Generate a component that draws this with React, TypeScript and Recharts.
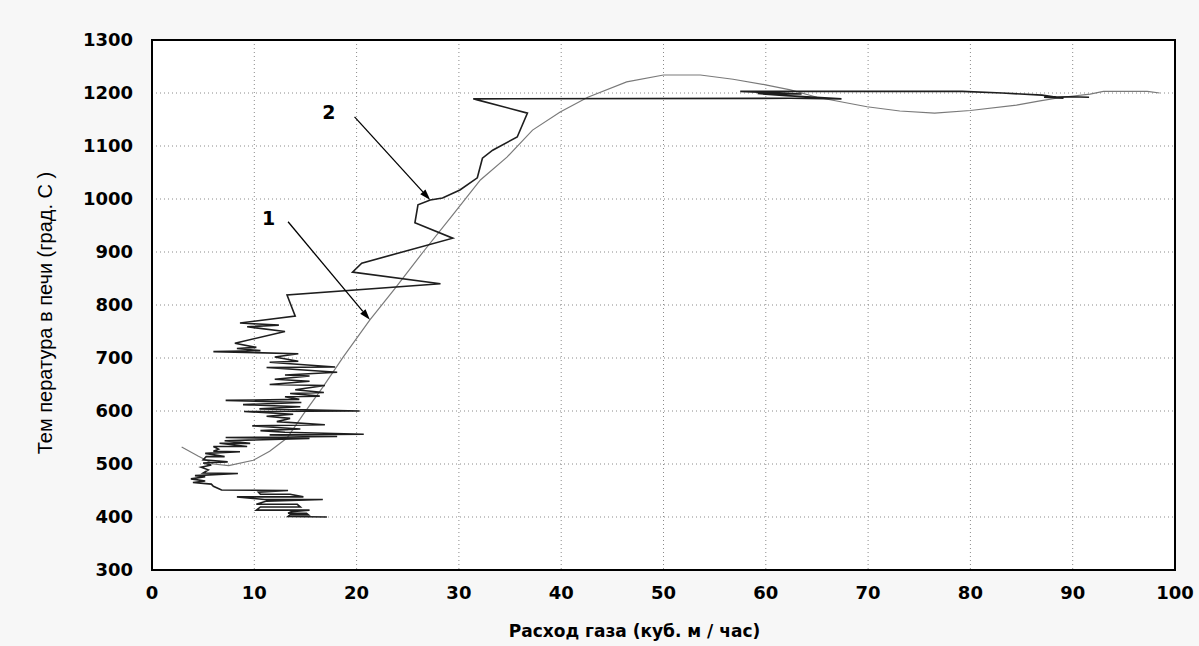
import { LineChart, Line, XAxis, YAxis, CartesianGrid, ReferenceArea, ReferenceLine, ReferenceDot } from "recharts";

// curve 1 – smooth model response (gas flow, temperature)
const smoothPoints: [number, number][] = [
  [2.9, 532], [4.5, 515], [6.0, 500], [7.5, 497], [9.9, 507], [11.5, 524], [13.2, 549],
  [14.8, 594], [16.7, 645], [18.7, 702], [21.3, 772], [23.7, 830], [26.5, 900], [29.4, 970],
  [32.1, 1036], [34.7, 1079], [37.2, 1130], [39.9, 1164], [42.6, 1192], [46.4, 1221], [50, 1234],
  [53.6, 1234], [56.8, 1226], [60.1, 1215], [62.4, 1206], [65, 1192], [69.9, 1174], [73.1, 1166],
  [76.5, 1162], [80, 1167], [84.5, 1177], [86.8, 1185], [89, 1192], [91.7, 1198], [93, 1203],
  [97.3, 1203], [98.5, 1200],
];

// curve 2 – measured furnace response
const measuredPoints: [number, number][] = [
  [17.1, 400], [13.3, 401], [13.5, 404], [15.3, 404], [15.1, 407], [13.3, 407], [13.6, 410],
  [15.4, 413], [10.2, 413], [10.6, 419], [14.5, 419], [14.2, 424], [10.2, 424], [11.2, 430],
  [16.7, 433], [11.0, 433], [8.3, 438], [14.8, 438], [13.5, 443], [10.6, 443], [10.4, 447],
  [13.3, 450], [6.8, 451], [6.0, 458], [5.8, 462], [4.0, 465], [5.2, 468], [3.8, 472],
  [5.2, 476], [4.2, 478], [8.4, 482], [5.0, 483], [5.5, 489], [4.8, 494], [5.8, 498],
  [5.0, 502], [7.4, 504], [5.0, 508], [5.3, 514], [7.1, 514], [5.2, 520], [8.6, 523],
  [6.0, 524], [6.5, 528], [6.0, 533], [9.3, 533], [6.6, 539], [9.6, 539], [7.1, 544],
  [15.4, 548], [7.2, 550], [18.1, 552], [11.5, 555], [20.7, 556], [13.0, 560], [10.6, 563],
  [14.5, 566], [9.8, 572], [16.9, 574], [12.2, 580], [13.5, 586], [11.2, 590], [13.8, 594],
  [9.0, 599], [20.3, 600], [10.5, 604], [14.5, 608], [8.9, 612], [14.6, 616], [7.2, 620],
  [14.4, 622], [13.0, 627], [16.4, 628], [13.5, 633], [16.8, 635], [14.0, 640], [16.9, 648],
  [11.5, 650], [15.4, 656], [12.0, 660], [15.4, 666], [13.0, 668], [18.1, 673], [11.2, 682],
  [17.9, 683], [11.5, 692], [14.3, 694], [12.0, 702], [14.3, 708], [6.0, 712], [10.6, 714],
  [8.3, 718], [10.2, 720], [8.1, 728], [13.0, 750], [9.3, 759], [12.4, 762], [8.6, 766],
  [14.0, 779], [13.7, 794], [13.2, 819], [28.2, 840], [19.6, 862], [20.5, 879], [29.4, 926],
  [25.7, 955], [26.0, 989], [27.2, 998], [28.4, 1002], [30.1, 1017], [31.8, 1040],
  [32.3, 1077], [33.3, 1092], [35.7, 1117], [36.7, 1162], [31.8, 1187], [31.4, 1189],
  [62.4, 1190], [67.4, 1189], [62.0, 1195], [59.2, 1199], [63.5, 1198], [57.5, 1203],
  [79.2, 1203], [83.1, 1200], [87.0, 1196], [89.1, 1190], [87.2, 1192], [89.8, 1193],
  [91.6, 1192],
];

const xTicks = [0, 10, 20, 30, 40, 50, 60, 70, 80, 90, 100];
const yTicks = [300, 400, 500, 600, 700, 800, 900, 1000, 1100, 1200, 1300];

// annotation arrows: label, label position, arrow start, arrow end
const arrowLabels = ["1", "2"];
const arrowLabelAt: [number, number][] = [[11.4, 964], [17.3, 1164]];
const arrowFrom: [number, number][] = [[13.3, 957], [19.8, 1155]];
const arrowTo: [number, number][] = [[21.3, 772], [27.2, 998]];

const smoothData = smoothPoints.map(([x, y]) => ({ x, y }));
const measuredData = measuredPoints.map(([x, y]) => ({ x, y }));

const tickStyle = { fontSize: 18, fontWeight: 700, fill: "#000", fontFamily: "DejaVu Sans" };

function Arrow(props: any) {
  const { x1, y1, x2, y2 } = props;
  const dx = x2 - x1;
  const dy = y2 - y1;
  const len = Math.sqrt(dx * dx + dy * dy);
  const ux = dx / len;
  const uy = dy / len;
  const hl = 11;
  const hw = 3.5;
  const bx = x2 - ux * hl;
  const by = y2 - uy * hl;
  return (
    <g>
      <line x1={x1} y1={y1} x2={bx} y2={by} stroke="#000" strokeWidth={1.3} />
      <polygon
        points={`${x2},${y2} ${bx - uy * hw},${by + ux * hw} ${bx + uy * hw},${by - ux * hw}`}
        fill="#000"
      />
    </g>
  );
}

export default function App() {
  return (
    <div style={{ position: "absolute", left: 0, top: 0, width: 1199, height: 646, background: "#f7f7f7" }}>
      <LineChart
        width={1199}
        height={646}
        margin={{ top: 40, right: 24, bottom: 0, left: 0 }}
        style={{ fontFamily: "DejaVu Sans" }}
      >
        <CartesianGrid fill="#fff" stroke="#8a8a8a" strokeDasharray="1 3" />
        <XAxis
          type="number"
          dataKey="x"
          domain={[0, 100]}
          ticks={xTicks}
          height={76}
          axisLine={false}
          tickLine={false}
          tickMargin={10}
          tick={tickStyle}
          allowDataOverflow
          label={{
            content: (p: any) => {
              const vb = p.viewBox;
              return (
                <text
                  x={vb.x + vb.width / 2 - 29}
                  y={vb.y + 67}
                  textAnchor="middle"
                  style={{ fontSize: 17, fontWeight: 700, fill: "#000", fontFamily: "DejaVu Sans" }}
                >
                  Расход газа (куб. м / час)
                </text>
              );
            },
          }}
        />
        <YAxis
          type="number"
          domain={[300, 1300]}
          ticks={yTicks}
          width={152}
          axisLine={false}
          tickLine={false}
          tickMargin={13}
          tick={tickStyle}
          allowDataOverflow
          label={{
            content: (p: any) => {
              const vb = p.viewBox;
              const cx = vb.x + 45;
              const cy = vb.y + vb.height / 2 + 8;
              return (
                <text
                  x={cx}
                  y={cy}
                  transform={`rotate(-90 ${cx} ${cy})`}
                  textAnchor="middle"
                  dominantBaseline="central"
                  style={{ fontSize: 20, fill: "#000", fontFamily: "Liberation Sans" }}
                >
                  Тем пература в печи (град. С )
                </text>
              );
            },
          }}
        />
        <ReferenceArea x1={0} x2={100} y1={300} y2={1300} fill="none" stroke="#000" strokeWidth={2} />
        <Line
          data={smoothData}
          dataKey="y"
          type="linear"
          stroke="#7a7a7a"
          strokeWidth={1.2}
          dot={false}
          isAnimationActive={false}
        />
        <Line
          data={measuredData}
          dataKey="y"
          type="linear"
          stroke="#1e1e1e"
          strokeWidth={1.6}
          dot={false}
          isAnimationActive={false}
        />
        {arrowFrom.map((from, i) => (
          <ReferenceLine
            key={`arrow-${i}`}
            segment={[
              { x: from[0], y: from[1] },
              { x: arrowTo[i][0], y: arrowTo[i][1] },
            ]}
            shape={Arrow}
          />
        ))}
        {arrowLabels.map((t, i) => (
          <ReferenceDot
            key={`lbl-${i}`}
            x={arrowLabelAt[i][0]}
            y={arrowLabelAt[i][1]}
            r={0}
            fill="none"
            stroke="none"
            label={{ value: t, position: "center", style: { fontSize: 19, fontWeight: 700, fill: "#000", fontFamily: "DejaVu Sans" } }}
          />
        ))}
      </LineChart>
    </div>
  );
}
